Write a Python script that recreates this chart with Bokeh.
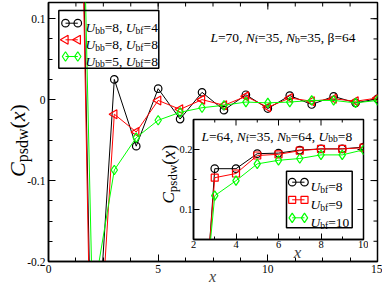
import math
from bokeh.plotting import figure
from bokeh.models import Range1d, FixedTicker, Label
from bokeh.layouts import column
from bokeh.embed import file_html
from bokeh.resources import INLINE

FONT = "Liberation Serif"

# ---------------- data ----------------
X_MAIN = [1, 2, 3, 4, 5, 6, 7, 8, 9, 10, 11, 12, 13, 14, 15]
C_BB8_BF4 = [1.0, -0.40, 0.025, -0.0575, 0.0135, -0.024, 0.009, -0.013, 0.006, -0.011, 0.005, -0.006, 0.004, -0.004, 0.001]
C_BB8_BF8 = [1.0, -0.45, -0.018, -0.040, -0.001, -0.012, 0.0, -0.007, 0.004, -0.0095, 0.002, -0.002, 0.001, -0.002, 0.002]
C_BB5_BF8 = [0.95, -0.25, -0.087, -0.047, -0.0255, -0.0157, -0.010, -0.007, -0.003, -0.004, -0.003, -0.001, -0.001, -0.004, -0.001]

X_MAIN_TICKS = [0, 5, 10, 15]
X_MAIN_TICK_LABELS = ["0", "5", "10", "15"]
Y_MAIN_TICKS = [-0.2, -0.1, 0.0, 0.1]
Y_MAIN_TICK_LABELS = ["-0.2", "-0.1", "0", "0.1"]

X_IN = [2, 3, 4, 5, 6, 7, 8, 9, 10]
C_BF8 = [-0.35, 0.168, 0.168, 0.193, 0.194, 0.199, 0.201, 0.201, 0.204]
C_BF9 = [-0.30, 0.153, 0.160, 0.190, 0.192, 0.198, 0.201, 0.201, 0.203]
C_BF10 = [-0.25, 0.123, 0.148, 0.176, 0.182, 0.185, 0.191, 0.191, 0.1995]

X_IN_TICKS = [2, 4, 6, 8, 10]
X_IN_TICK_LABELS = ["2", "4", "6", "8", "10"]
Y_IN_TICKS = [0.1, 0.2]
Y_IN_TICK_LABELS = ["0.1", "0.2"]

# ---------------- text helpers ----------------
W_REG = {" ": 250, ",": 250, ".": 250, "=": 564, "b": 500, "f": 333, "p": 500, "s": 389,
         "d": 500, "w": 722, "(": 333, ")": 333, "\u03b2": 550, "-": 333}
W_IT = {"U": 722, "L": 556, "N": 667, "C": 667, "x": 444}


def run_width(text, size, italic):
    table = W_IT if italic else W_REG
    return sum(table.get(ch, 500) for ch in text) * size / 1000.0


def add_runs(fig, x0, y0, runs, vertical=False):
    pos = y0 if vertical else x0
    for text, size, italic, dy in runs:
        if vertical:
            lx, ly, ang = x0 - dy, pos, math.pi / 2
        else:
            lx, ly, ang = pos, y0 + dy, 0.0
        fig.add_layout(Label(x=lx, y=ly, x_units="screen", y_units="screen", text=text,
                             text_font=FONT, text_font_size=f"{size}px",
                             text_font_style="italic" if italic else "normal",
                             text_baseline="alphabetic", text_align="left",
                             angle=ang, text_color="black"))
        pos += run_width(text, size, italic)


def style_axes(fig, fw, fh, xt, yt, xlabels, ylabels, size, tick_major, tick_minor, standoff):
    bottom = fig.below[0]
    left = fig.left[0]
    bottom.ticker = xt
    left.ticker = yt
    bottom.major_label_overrides = dict(zip([float(v) for v in xt.ticks], xlabels))
    left.major_label_overrides = dict(zip([float(v) for v in yt.ticks], ylabels))
    for ax in (bottom, left):
        ax.major_tick_in = tick_major
        ax.major_tick_out = 0
        ax.minor_tick_in = tick_minor
        ax.minor_tick_out = 0
        ax.axis_line_width = 1.5
        ax.axis_line_color = "black"
        ax.major_tick_line_color = "black"
        ax.minor_tick_line_color = "black"
        ax.major_tick_line_width = 1
        ax.minor_tick_line_width = 1
        ax.major_label_text_font = FONT
        ax.major_label_text_font_size = f"{size}px"
        ax.major_label_text_color = "black"
        ax.major_label_standoff = standoff
    fig.grid.visible = False
    fig.outline_line_color = "black"
    fig.outline_line_width = 1.5
    # mirrored ticks on the top and right edges (in frame pixel coordinates)
    xs, xe = fig.x_range.start, fig.x_range.end
    ys, ye = fig.y_range.start, fig.y_range.end
    for ticks, ln in ((xt.ticks, tick_major), (xt.minor_ticks, tick_minor)):
        px = [(t - xs) / (xe - xs) * fw for t in ticks]
        fig.segment(x0=px, y0=[fh] * len(px), x1=px, y1=[fh - ln] * len(px), line_color="black",
                    line_width=1, x_range_name="px", y_range_name="py")
    for ticks, ln in ((yt.ticks, tick_major), (yt.minor_ticks, tick_minor)):
        py = [(t - ys) / (ye - ys) * fh for t in ticks]
        fig.segment(x0=[fw] * len(py), y0=py, x1=[fw - ln] * len(py), y1=py, line_color="black",
                    line_width=1, x_range_name="px", y_range_name="py")


# ---------------- main figure ----------------
MF_W, MF_H = 329, 259
MB_L, MB_R, MB_T, MB_B = 48, 5, 2, 24
MAIN_W = MB_L + MF_W + MB_R
MAIN_H = MB_T + MF_H + MB_B
p = figure(frame_width=MF_W, frame_height=MF_H, x_range=Range1d(0, 15), y_range=Range1d(-0.2, 0.12),
           min_border_left=MB_L, min_border_right=MB_R, min_border_top=MB_T, min_border_bottom=MB_B,
           output_backend="svg", toolbar_location=None, title=None)
p.extra_x_ranges = {"px": Range1d(0, MF_W)}
p.extra_y_ranges = {"py": Range1d(0, MF_H)}

style_axes(p, MF_W, MF_H,
           FixedTicker(ticks=X_MAIN_TICKS, minor_ticks=[i * 1.25 for i in range(13)]),
           FixedTicker(ticks=Y_MAIN_TICKS, minor_ticks=[-0.2 + i * 0.025 for i in range(13)]),
           X_MAIN_TICK_LABELS, Y_MAIN_TICK_LABELS, 11.5, 7, 4, 3)

main_series = [
    (C_BB8_BF4, "black", "circle", 0.0, 7.5),
    (C_BB8_BF8, "#ff0000", "triangle", math.pi / 2, 9),
    (C_BB5_BF8, "#00ff00", "diamond", 0.0, 9.5),
]
for ys_, col, mk, ang, sz in main_series:
    p.line(X_MAIN, ys_, line_color=col, line_width=1)
    p.scatter(X_MAIN, ys_, marker=mk, angle=ang, size=sz, fill_color=None, line_color=col, line_width=1.2)

# main legend (pixel coordinates inside the frame)
p.quad(left=[10.3], right=[110.3], top=[251], bottom=[193.3], fill_color=None, line_color="black",
       line_width=1.5, x_range_name="px", y_range_name="py")
leg_rows = [238.3, 221.7, 205.0]
leg_texts = [("=8, ", "=4"), ("=8, ", "=8"), ("=5, ", "=8")]
for (ys_, col, mk, ang, sz), ry, (t1, t2) in zip(main_series, leg_rows, leg_texts):
    p.line([17, 29.3], [ry, ry], line_color=col, line_width=1, x_range_name="px", y_range_name="py")
    p.scatter([17, 29.3], [ry, ry], marker=mk, angle=ang, size=sz, fill_color=None, line_color=col,
              line_width=1.2, x_range_name="px", y_range_name="py")
    add_runs(p, 37, ry - 4.7, [("U", 13.5, True, 0), ("bb", 9.5, False, -3), (t1, 13.5, False, 0),
                               ("U", 13.5, True, 0), ("bf", 9.5, False, -3), (t2, 13.5, False, 0)])

add_runs(p, 162, 224.3, [("L", 13.5, True, 0), ("=70, ", 13.5, False, 0), ("N", 13.5, True, 0),
                         ("f", 9.5, False, -3), ("=35, ", 13.5, False, 0), ("N", 13.5, True, 0),
                         ("b", 9.5, False, -3), ("=35, \u03b2=64", 13.5, False, 0)])

# ---------------- inset figure ----------------
IF_W, IF_H = 170, 120
IN_FRAME_LEFT, IN_FRAME_TOP = 193, 119
IN_BL, IN_BR, IN_BT, IN_BB = MB_L, MB_R, 3, 20
q = figure(frame_width=IF_W, frame_height=IF_H, x_range=Range1d(2, 10), y_range=Range1d(0.05, 0.25),
           min_border_left=IN_BL, min_border_right=IN_BR, min_border_top=IN_BT, min_border_bottom=IN_BB,
           output_backend="svg", toolbar_location=None, border_fill_alpha=0, title=None,
           background_fill_color="white")
q.extra_x_ranges = {"px": Range1d(0, IF_W)}
q.extra_y_ranges = {"py": Range1d(0, IF_H)}
style_axes(q, IF_W, IF_H,
           FixedTicker(ticks=X_IN_TICKS, minor_ticks=[3, 5, 7, 9]),
           FixedTicker(ticks=Y_IN_TICKS, minor_ticks=[0.05, 0.15, 0.25]),
           X_IN_TICK_LABELS, Y_IN_TICK_LABELS, 10.5, 6, 3, 1)

inset_series = [
    (C_BF8, "black", "circle", 7.5),
    (C_BF9, "#ff0000", "square", 7),
    (C_BF10, "#00ff00", "diamond", 9.5),
]
for ys_, col, mk, sz in inset_series:
    q.line(X_IN, ys_, line_color=col, line_width=1)
    q.scatter(X_IN, ys_, marker=mk, size=sz, fill_color=None, line_color=col, line_width=1.2)

q.quad(left=[93], right=[158.7], top=[68.3], bottom=[11.7], fill_color="white", line_color="black",
       line_width=1.5, x_range_name="px", y_range_name="py")
in_rows = [57.3, 39.7, 21.7]
in_texts = ["=8", "=9", "=10"]
for (ys_, col, mk, sz), ry, t in zip(inset_series, in_rows, in_texts):
    q.line([98.7, 111], [ry, ry], line_color=col, line_width=1, x_range_name="px", y_range_name="py")
    q.scatter([98.7, 111], [ry, ry], marker=mk, size=sz, fill_color=None, line_color=col, line_width=1.2,
              x_range_name="px", y_range_name="py")
    add_runs(q, 117, ry - 4.7, [("U", 13.5, True, 0), ("bf", 9.5, False, -3), (t, 13.5, False, 0)])

add_runs(q, 8, 103.3, [("L", 13.5, True, 0), ("=64, ", 13.5, False, 0), ("N", 13.5, True, 0),
                       ("f", 9.5, False, -3), ("=35, ", 13.5, False, 0), ("N", 13.5, True, 0),
                       ("b", 9.5, False, -3), ("=64, ", 13.5, False, 0), ("U", 13.5, True, 0),
                       ("bb", 9.5, False, -3), ("=8", 13.5, False, 0)])

inset_h = IN_BT + IF_H + IN_BB
inset_w = IN_BL + IF_W + IN_BR
in_margin_left = IN_FRAME_LEFT - IN_BL
in_top = IN_FRAME_TOP - IN_BT
q.margin = (in_top - MAIN_H, MAIN_W - in_margin_left - inset_w, MAIN_H - in_top - inset_h, in_margin_left)

# ---------------- transparent overlay for the axis titles outside the frames ----------------
# its frame covers the main canvas from x=0 to MAIN_W-MB_R, full height (y measured up from the bottom)
o = figure(frame_width=MAIN_W - MB_R, frame_height=MAIN_H, x_range=Range1d(0, 1), y_range=Range1d(0, 1),
           x_axis_type=None, y_axis_type=None, min_border_left=MB_L, min_border_right=MB_R,
           min_border_top=0, min_border_bottom=0, output_backend="svg", title=None,
           toolbar_location=None, border_fill_alpha=0, background_fill_alpha=0, outline_line_color=None)
o.grid.visible = False
o.margin = (-MAIN_H, 0, 0, -MB_L)

# main axis titles
add_runs(o, 16.7, MAIN_H - 176.5, [("C", 22, True, 0), ("psdw", 16, False, -5), ("(", 22, False, 0),
                                   ("x", 22, True, 0), (")", 22, False, 0)], vertical=True)
o.add_layout(Label(x=212, y=9, x_units="screen", y_units="screen", text="x",
                   text_font=FONT, text_font_size="16px", text_font_style="italic",
                   text_align="center", text_baseline="alphabetic"))

# inset axis titles
add_runs(o, 168, MAIN_H - 203, [("C", 17, True, 0), ("psdw", 13, False, -4), ("(", 18, False, 0),
                                ("x", 18, True, 0), (")", 18, False, 0)], vertical=True)
o.add_layout(Label(x=297, y=MAIN_H - 252, x_units="screen", y_units="screen", text="x",
                   text_font=FONT, text_font_size="17px", text_font_style="italic",
                   text_align="center", text_baseline="alphabetic"))

layout = column(p, q, o)
open("out.html", "w").write(file_html(layout, INLINE))
